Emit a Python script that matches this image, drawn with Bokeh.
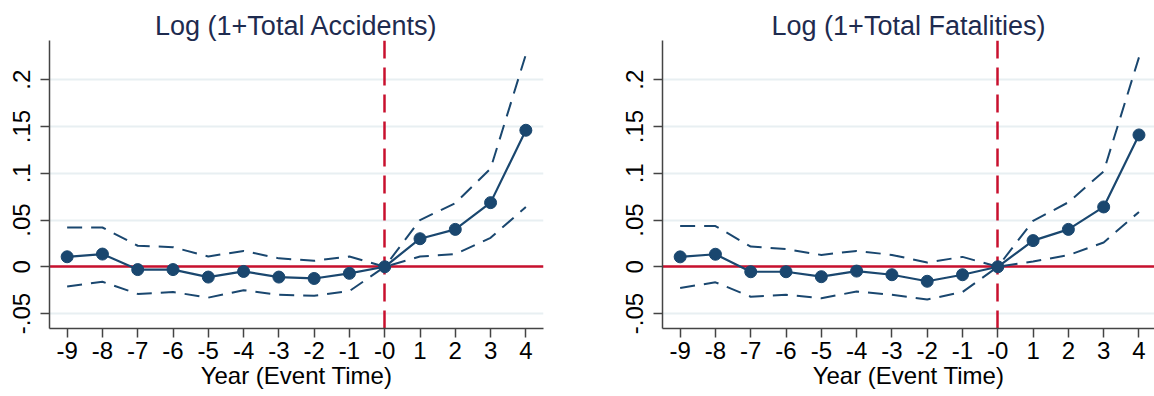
from bokeh.plotting import figure
from bokeh.layouts import row
from bokeh.models import FixedTicker, Range1d
from bokeh.embed import file_html
from bokeh.resources import INLINE

# Event-study estimates by year relative to the event
years = [-9, -8, -7, -6, -5, -4, -3, -2, -1, 0, 1, 2, 3, 4]
year_labels = ["-9", "-8", "-7", "-6", "-5", "-4", "-3", "-2", "-1", "-0", "1", "2", "3", "4"]

acc_coef = [0.0107, 0.0136, -0.003, -0.003, -0.011, -0.005, -0.011, -0.0125, -0.007, 0.0, 0.030, 0.040, 0.0686, 0.146]
acc_upper = [0.042, 0.042, 0.0225, 0.021, 0.011, 0.017, 0.009, 0.0064, 0.011, 0.0, 0.050, 0.068, 0.105, 0.227]
acc_lower = [-0.021, -0.016, -0.029, -0.027, -0.033, -0.025, -0.030, -0.031, -0.026, 0.0, 0.011, 0.0136, 0.031, 0.064]

fat_coef = [0.0106, 0.0134, -0.0053, -0.0053, -0.0106, -0.0046, -0.0085, -0.0155, -0.0085, 0.0, 0.028, 0.040, 0.064, 0.141]
fat_upper = [0.0435, 0.0435, 0.0216, 0.019, 0.0127, 0.017, 0.0127, 0.0046, 0.0106, 0.0, 0.049, 0.069, 0.102, 0.224]
fat_lower = [-0.0226, -0.0166, -0.032, -0.030, -0.0336, -0.0265, -0.030, -0.035, -0.027, 0.0, 0.0057, 0.0124, 0.026, 0.0587]

y_ticks = [-0.05, 0.0, 0.05, 0.1, 0.15, 0.2]
y_tick_labels = ["-.05", "0", ".05", ".1", ".15", ".2"]

NAVY = "#1a476f"
RED = "#c8102e"
GRID = "#e8eff2"
FONT = "Liberation Sans"


def panel(title, coef, lower, upper, width, left, right, x_end):
    p = figure(
        width=width, height=396,
        x_range=Range1d(-9.5, x_end), y_range=Range1d(-0.066, 0.242),
        output_backend="svg", toolbar_location=None,
        min_border_left=left, min_border_right=right,
        min_border_top=40, min_border_bottom=68,
        title=title,
    )
    p.outline_line_color = None
    p.background_fill_color = "white"
    p.border_fill_color = "white"

    p.title.align = "center"
    p.title.text_font = FONT
    p.title.text_font_size = "27px"
    p.title.text_font_style = "normal"
    p.title.text_color = "#1e2b4f"
    p.title.standoff = 0

    # axes
    for ax in (p.xaxis[0], p.yaxis[0]):
        ax.axis_line_color = "#444444"
        ax.axis_line_width = 1.5
        ax.major_tick_line_color = "#444444"
        ax.major_tick_line_width = 1.5
        ax.major_tick_in = 0
        ax.major_tick_out = 9
        ax.minor_tick_line_color = None
        ax.major_label_text_font = FONT
        ax.major_label_text_font_size = "24px"
        ax.major_label_text_color = "black"

    p.xaxis.ticker = FixedTicker(ticks=years)
    p.xaxis.major_label_overrides = {y: s for y, s in zip(years, year_labels)}
    p.xaxis.major_label_standoff = 4
    p.xaxis.axis_label = "Year (Event Time)"
    p.xaxis.axis_label_text_font = FONT
    p.xaxis.axis_label_text_font_size = "24px"
    p.xaxis.axis_label_text_font_style = "normal"
    p.xaxis.axis_label_text_color = "black"
    p.xaxis.axis_label_standoff = 0

    p.yaxis.ticker = FixedTicker(ticks=y_ticks)
    p.yaxis.major_label_overrides = {t: s for t, s in zip(y_ticks, y_tick_labels)}
    p.yaxis.major_label_orientation = "vertical"
    p.yaxis.major_label_standoff = 10

    p.xgrid.visible = False
    p.ygrid.ticker = FixedTicker(ticks=y_ticks)
    p.ygrid.grid_line_color = GRID
    p.ygrid.grid_line_width = 2

    # reference lines at zero effect and at event time
    p.hspan(y=[0], line_color=RED, line_width=2.5)
    p.vspan(x=[0], line_color=RED, line_width=2.5, line_dash="18 9")

    # confidence bounds
    p.line(years, upper, line_color=NAVY, line_width=2, line_dash="15 9")
    p.line(years, lower, line_color=NAVY, line_width=2, line_dash="15 9")

    # point estimates
    p.line(years, coef, line_color=NAVY, line_width=2.2)
    p.scatter(years, coef, size=12, fill_color=NAVY, line_color=NAVY)
    return p


left_panel = panel("Log (1+Total Accidents)", acc_coef, acc_lower, acc_upper,
                   577, 49, 34, 4.5)
right_panel = panel("Log (1+Total Fatalities)", fat_coef, fat_lower, fat_upper,
                    577, 85, 0, 4.44)

layout = row(left_panel, right_panel)
open("out.html", "w").write(file_html(layout, INLINE))
